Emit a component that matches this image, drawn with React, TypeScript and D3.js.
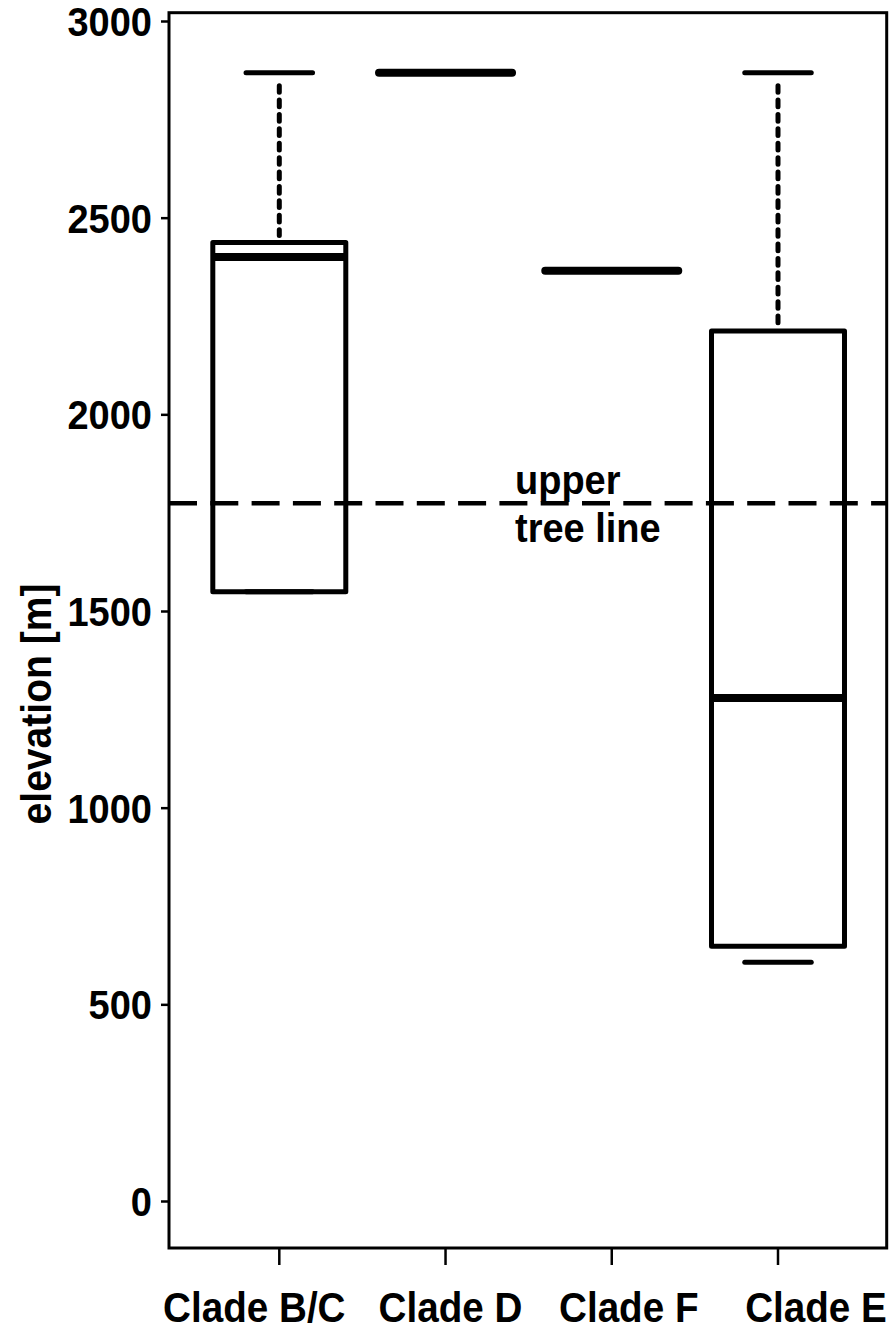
import React from "react";
import * as d3 from "d3";

const categories = ["Clade B/C", "Clade D", "Clade F", "Clade E"];
const whiskerLow = [1550, 2870, 2366, 608];
const q1 = [1550, 2870, 2366, 649];
const median = [2401, 2870, 2366, 1280];
const q3 = [2438, 2870, 2366, 2213];
const whiskerHigh = [2870, 2870, 2366, 2870];
const yTicks = [0, 500, 1000, 1500, 2000, 2500, 3000];
const treeLine = 1775;
const treeLabel = ["upper", "tree line"];
const yLabel = "elevation [m]";

// styling only
const labelDx = [-25, 5, 17, 38];

export default function App() {
  const W = 894, H = 1330;
  const left = 169, right = 886.7, top = 12.7, bottom = 1248;
  const x = d3.scaleLinear().domain([1, 4]).range([279.3, 778]);
  const y = d3.scaleLinear().domain([0, 3000]).range([1201.5, 21.5]);
  const unit = x(2) - x(1);
  const halfBox = unit * 0.4;
  const halfCap = unit * 0.2;
  const font = "'Liberation Sans', Arial, Helvetica, sans-serif";

  return (
    <svg width={W} height={H} style={{ position: "absolute", left: 0, top: 0, background: "#fff" }}
      fontFamily={font} fontWeight="bold">
      <rect x={0} y={0} width={W} height={H} fill="#fff" />
      {/* tree line */}
      <line x1={left} x2={right} y1={y(treeLine)} y2={y(treeLine)} stroke="#000" strokeWidth={4.5}
        strokeDasharray="28 13.3" />
      <text transform="translate(515,494) scale(0.95,1)" fontSize={40} fill="#000">{treeLabel[0]}</text>
      <text transform="translate(515,542) scale(0.95,1)" fontSize={40} fill="#000">{treeLabel[1]}</text>

      {categories.map((c, i) => {
        const cx = x(i + 1);
        const items: any[] = [];
        const uStart = y(whiskerHigh[i]) + 13;
        const uEnd = y(q3[i]) - 7;
        if (uEnd > uStart) {
          items.push(<line key="uw" x1={cx} x2={cx} y1={uStart} y2={uEnd} stroke="#000" strokeWidth={5}
            strokeDasharray="6.7 7.7" strokeLinecap="round" />);
        }
        const lStart = y(whiskerLow[i]) - 13;
        const lEnd = y(q1[i]) + 7;
        if (lStart > lEnd) {
          items.push(<line key="lw" x1={cx} x2={cx} y1={lStart} y2={lEnd} stroke="#000" strokeWidth={5}
            strokeDasharray="6.7 7.7" strokeLinecap="round" />);
        }
        items.push(<line key="uc" x1={cx - halfCap} x2={cx + halfCap} y1={y(whiskerHigh[i])} y2={y(whiskerHigh[i])}
          stroke="#000" strokeWidth={5} strokeLinecap="round" />);
        items.push(<line key="lc" x1={cx - halfCap} x2={cx + halfCap} y1={y(whiskerLow[i])} y2={y(whiskerLow[i])}
          stroke="#000" strokeWidth={5} strokeLinecap="round" />);
        items.push(<rect key="box" x={cx - halfBox} y={y(q3[i])} width={halfBox * 2}
          height={Math.max(0, y(q1[i]) - y(q3[i]))} fill="none" stroke="#000" strokeWidth={5}
          strokeLinejoin="round" />);
        items.push(<line key="med" x1={cx - halfBox} x2={cx + halfBox} y1={y(median[i])} y2={y(median[i])}
          stroke="#000" strokeWidth={8} strokeLinecap={q1[i] === q3[i] ? "round" : "butt"} />);
        return <g key={c}>{items}</g>;
      })}

      {/* frame */}
      <rect x={left} y={top} width={right - left} height={bottom - top} fill="none" stroke="#000" strokeWidth={3} />

      {/* y axis */}
      {yTicks.map((t) => (
        <g key={t}>
          <line x1={161} x2={left} y1={y(t)} y2={y(t)} stroke="#000" strokeWidth={2.5} />
          <text transform={`translate(152,${y(t) + 14.5}) scale(0.95,1)`} textAnchor="end" fontSize={40}
            fill="#000">{t}</text>
        </g>
      ))}
      <text transform={`translate(51,704) rotate(-90) scale(0.93,1)`} textAnchor="middle" fontSize={42}
        fill="#000">{yLabel}</text>

      {/* x axis */}
      {categories.map((c, i) => (
        <g key={c}>
          <line x1={x(i + 1)} x2={x(i + 1)} y1={bottom} y2={1265} stroke="#000" strokeWidth={2.5} />
          <text transform={`translate(${x(i + 1) + labelDx[i]},1322) scale(0.92,1)`} textAnchor="middle"
            fontSize={42} fill="#000">{c}</text>
        </g>
      ))}
    </svg>
  );
}
